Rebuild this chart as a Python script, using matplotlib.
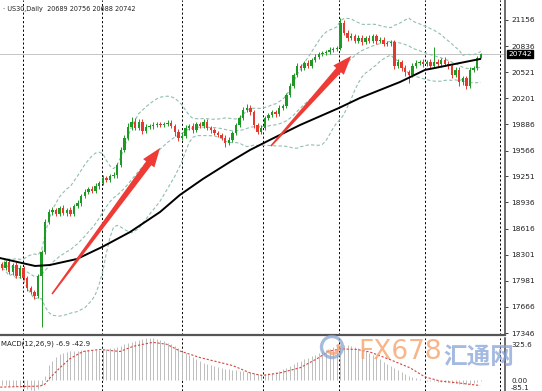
import numpy as np
import pandas as pd
import matplotlib
matplotlib.use("Agg")
import matplotlib.pyplot as plt
from matplotlib.patches import Polygon, Circle, Arc
from matplotlib.transforms import IdentityTransform, blended_transform_factory

# --- data --------------------------------------------------------------------
closes = [18138, 18211, 18089, 18174, 18040, 18138, 18016, 17894, 17846, 17797,
          18040, 18333, 18698, 18819, 18844, 18795, 18868, 18807, 18844, 18795,
          18892, 18929, 19014, 19063, 19099, 19075, 19136, 19172, 19233, 19209,
          19257, 19270, 19391, 19574, 19720, 19854, 19915, 19842, 19915, 19805,
          19854, 19866, 19878, 19890, 19878, 19890, 19903, 19866, 19793, 19720,
          19744, 19842, 19866, 19817, 19890, 19866, 19915, 19842, 19817, 19781,
          19756, 19720, 19659, 19696, 19781, 19878, 19963, 20061, 20085, 20036,
          19878, 19793, 19842, 19963, 20000, 20036, 20012, 20085, 20109, 20243,
          20353, 20487, 20596, 20572, 20633, 20596, 20669, 20706, 20742, 20754,
          20767, 20791, 20803, 20815, 21120, 20998, 20937, 20961, 20900, 20937,
          20888, 20937, 20900, 20961, 20900, 20913, 20864, 20876, 20888, 20596,
          20645, 20572, 20523, 20487, 20596, 20633, 20645, 20621, 20645, 20596,
          20645, 20621, 20669, 20621, 20596, 20487, 20548, 20402, 20450, 20353,
          20548, 20572, 20689, 20742]
first_open = 18180

upper_wick = [30, 25, 40, 20, 35, 30, 25, 20, 30, 25,
              20, 24, 30, 40, 35, 25, 30, 40, 25, 30,
              25, 35, 20, 30, 25, 40, 30, 25, 35, 30,
              25, 30, 20, 35, 30, 45, 60, 50, 35, 40,
              30, 25, 35, 30, 25, 30, 35, 30, 25, 30,
              35, 30, 25, 40, 30, 25, 35, 30, 25, 30,
              25, 30, 35, 30, 25, 30, 35, 40, 45, 35,
              30, 25, 35, 30, 25, 30, 25, 35, 30, 25,
              30, 25, 35, 30, 25, 30, 25, 30, 25, 30,
              25, 30, 25, 30, 60, 36, 30, 40, 25, 35,
              30, 25, 40, 30, 25, 35, 30, 25, 30, 20,
              30, 25, 30, 25, 35, 30, 25, 30, 25, 35,
              180, 30, 25, 35, 30, 25, 30, 35, 25, 30,
              30, 25, 30, 14]
lower_wick = [25, 30, 20, 35, 25, 30, 20, 35, 25, 40,
              30, 620, 30, 25, 35, 30, 25, 30, 35, 25,
              30, 25, 35, 30, 20, 30, 25, 35, 30, 25,
              30, 25, 35, 30, 25, 30, 35, 25, 30, 35,
              25, 30, 35, 30, 25, 30, 25, 30, 45, 35,
              30, 25, 30, 35, 25, 30, 25, 30, 35, 30,
              25, 30, 45, 30, 25, 30, 25, 30, 25, 35,
              40, 30, 25, 30, 25, 30, 35, 25, 30, 25,
              30, 25, 30, 35, 25, 30, 25, 30, 25, 30,
              25, 30, 25, 30, 25, 30, 35, 30, 25, 30,
              35, 30, 25, 30, 35, 30, 25, 30, 35, 40,
              30, 35, 45, 97, 30, 25, 30, 35, 30, 25,
              30, 25, 35, 30, 40, 35, 30, 45, 35, 40,
              30, 25, 20, 1]

# long moving average (black line), read at anchor bars
ma_idx = [-0.6, 9.2, 13.3, 20.8, 27.8, 35.6, 43.9, 49.4, 55.8, 63.3,
          68.9, 74.4, 82.8, 93.6, 99.4, 105, 110.6, 117.5, 124.4, 132.8]
ma_val = [18259, 18162, 18174, 18247, 18393, 18576, 18819, 19026, 19221, 19428,
          19574, 19696, 19878, 20085, 20206, 20304, 20402, 20548, 20608, 20681]

macd_hist = [-40, -42, -45, -44, -50, -52, -58, -66, -75, -85,
             -72, -35, 30, 120, 150, 180, 200, 212, 220, 224,
             226, 228, 229, 230, 231, 232, 234, 236, 238, 242,
             246, 250, 256, 266, 278, 290, 298, 305, 312, 318,
             322, 325, 324, 320, 313, 303, 290, 276, 262, 245,
             228, 210, 193, 176, 160, 146, 134, 124, 115, 108,
             101, 95, 88, 82, 78, 74, 72, 70, 66, 62,
             56, 50, 47, 48, 52, 58, 64, 72, 84, 96,
             108, 122, 136, 148, 160, 172, 184, 196, 210, 222,
             234, 244, 252, 262, 270, 272, 270, 266, 258, 248,
             236, 222, 208, 192, 176, 160, 142, 124, 108, 92,
             76, 60, 46, 34, 24, 16, 8, 2, -4, -8,
             -10, -12, -14, -16, -18, -22, -24, -28, -30, -32,
             -28, -20, -12, -6.9]
sig_idx = [-0.5, 10.6, 11.9, 13.3, 16.1, 18.9, 22.5, 27.2, 32.8, 36.4,
           41.9, 45.8, 49.4, 55, 59.7, 64.2, 68.9, 72.2, 77.2, 82.8,
           87.5, 90.6, 93.9, 98.6, 102.2, 107.8, 113.3, 117.5, 121.7, 127.2, 132.8]
sig_val = [-55, -47, -32, 16, 95, 166, 221, 237, 221, 261,
           292, 277, 225, 174, 142, 111, 55, 35, 55, 95,
           165, 221, 241, 237, 217, 158, 95, 24, -8, -24, -42.9]

price_ticks = [21156, 20836, 20521, 20201, 19886, 19566, 19251,
               18936, 18616, 18301, 17981, 17666, 17346]
grid_idx = [5.8, 27.8, 49.9, 72.5, 93.6, 117.5, 138.3]
last_price = 20742
header = "\u00b7 US30,Daily  20689 20756 20688 20742"
macd_title = "MACD(12,26,9) -6.9 -42.9"
macd_labels = ["325.6", "0.00", "-85.1"]

GREEN = "#1d9a24"
RED = "#e5392f"
BAND = "#93bfae"

# --- figure -----------------------------------------------------------------
W, H = 542, 391
fig = plt.figure(figsize=(W / 100, H / 100), dpi=100)
ax = fig.add_axes([0, (H - 335) / H, 505 / W, 335 / H])
axm = fig.add_axes([0, 0, 505 / W, (H - 338) / H])

n = len(closes)
idx = np.arange(n)
opens = [first_open] + closes[:-1]
s = pd.Series(closes, dtype=float)

# bollinger bands (20, 2) on the closes
mid = s.rolling(20, min_periods=1).mean()
sd = s.rolling(20, min_periods=1).std(ddof=0)
for band in (mid + 2 * sd, mid, mid - 2 * sd):
    ax.plot(idx, band, color=BAND, lw=0.8, ls=(0, (3, 2)), zorder=2)

for i in idx:
    o, c = opens[i], closes[i]
    col = GREEN if c >= o else RED
    hi = max(o, c) + upper_wick[i]
    lo = min(o, c) - lower_wick[i]
    ax.vlines(i, lo, hi, color=col, lw=0.7, zorder=3)
    ax.bar(i, max(abs(c - o), 6), bottom=min(o, c), width=0.62, color=col,
           lw=0, zorder=3)

ax.plot(ma_idx, ma_val, color="black", lw=1.4, zorder=4)
ax.axhline(last_price, color="#c4c4c4", lw=0.7, zorder=1)

xlim = (-0.556, 139.72)
ax.set_xlim(*xlim)
ax.set_ylim(17322, 21399)
axm.set_xlim(*xlim)
axm.set_ylim(-85.1, 325.6)

for a in (ax, axm):
    for g in grid_idx:
        a.axvline(g, color="black", lw=0.7, ls=(0, (2.2, 2.2)), zorder=1)
    a.spines["left"].set_visible(False)
    a.spines["top"].set_visible(False)
    a.spines["right"].set_color("#444444")
    a.spines["right"].set_linewidth(1.1)
    a.set_xticks([])

ax.spines["bottom"].set_color("#555555")
ax.spines["bottom"].set_linewidth(1.6)
axm.spines["bottom"].set_visible(False)

ax.yaxis.tick_right()
ax.set_yticks(price_ticks)
ax.set_yticklabels([str(p) for p in price_ticks])
ax.tick_params(axis="y", length=2.5, width=0.6, pad=2, labelsize=5.4,
               colors="#222222")
axm.set_yticks([])

# current price box
ax.annotate(str(last_price), xy=(1.0, last_price),
            xycoords=blended_transform_factory(ax.transAxes, ax.transData),
            xytext=(2.5, 0), textcoords="offset points", va="center", ha="left",
            fontsize=5.4, color="white", annotation_clip=False,
            bbox=dict(boxstyle="square,pad=0.15", fc="black", ec="black"))

# macd panel
axm.vlines(idx, 0, macd_hist, color="#bdbdbd", lw=0.7, zorder=2)
axm.plot(sig_idx, sig_val, color="#d8443c", lw=0.8, ls=(0, (2, 1.6)), zorder=3)
axm.text(0.002, 0.89, macd_title, transform=axm.transAxes, fontsize=5.0,
         va="center", ha="left", color="#222222")
for lab, yf in zip(macd_labels, [0.87, 0.19, 0.06]):
    axm.text(1.012, yf, lab, transform=axm.transAxes, fontsize=5.2,
             va="center", ha="left", color="#222222", clip_on=False)

# header
fig.text(3 / W, 1 - 9 / H, header, fontsize=4.7, va="center", ha="left",
         color="#222222")


# red trend arrows
def tapered_arrow(a, start, end, tail_w=1.6, shaft_w=6.5, head_w=14, head_len=19,
                  color="#ee3b35"):
    p0 = a.transData.transform(start)
    p1 = a.transData.transform(end)
    d = p1 - p0
    u = d / np.hypot(*d)
    nrm = np.array([-u[1], u[0]])
    pb = p1 - u * head_len
    pts = [p0 + nrm * tail_w / 2, pb + nrm * shaft_w / 2, pb + nrm * head_w / 2,
           p1, pb - nrm * head_w / 2, pb - nrm * shaft_w / 2, p0 - nrm * tail_w / 2]
    a.add_patch(Polygon(pts, closed=True, transform=IdentityTransform(),
                        fc=color, ec="none", zorder=6))


tapered_arrow(ax, (13.9, 17821), (43.9, 19598))
tapered_arrow(ax, (74.7, 19622), (97.0, 20718))

# watermark
fig.add_artist(Circle((332, H - 347), 10.5, transform=IdentityTransform(),
                      fill=False, ec="#8aa6d2", lw=2.4, alpha=0.75))
fig.add_artist(Arc((333, H - 348), 11, 11, theta1=200, theta2=40,
                   transform=IdentityTransform(), ec="#f4a070", lw=2.2, alpha=0.8))
fig.text(400 / W, 1 - 352 / H, "FX678", fontsize=19, color="#f6a36c", alpha=0.8,
         ha="center", va="center")
fig.text(479 / W, 1 - 357 / H, "汇通网", fontsize=17, color="#86a3d6", alpha=0.75,
         ha="center", va="center", family=["Noto Sans CJK SC", "DejaVu Sans"],
         fontweight="bold")

fig.savefig("out.png", dpi=100, facecolor="white")
